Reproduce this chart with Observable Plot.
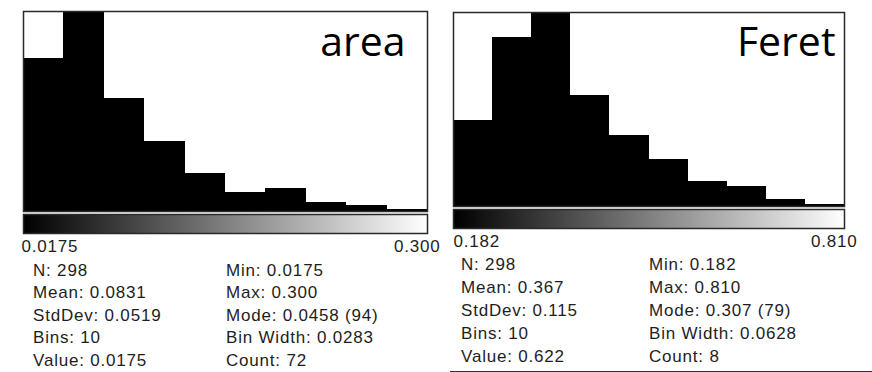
<!DOCTYPE html>
<html>
<head>
<meta charset="utf-8">
<script src="https://cdn.jsdelivr.net/npm/d3@7"></script>
<script src="https://cdn.jsdelivr.net/npm/@observablehq/plot@0.6"></script>
<style>
  html, body { margin: 0; padding: 0; background: #fff; }
  #root { position: relative; width: 872px; height: 372px; overflow: hidden; background: #fff; }
  .part { position: absolute; }
  .stat { position: absolute; font-family: "Liberation Sans", Arial, sans-serif; font-size: 17px;
          letter-spacing: 0.8px; line-height: 14px; height: 14px; color: #1e1e1e; white-space: nowrap; }
  .rule { position: absolute; background: #333; }
</style>
</head>
<body>
<div id="root"></div>
<script>
// ---------- data ----------
const binIndex = [0, 1, 2, 3, 4, 5, 6, 7, 8, 9];
const areaCounts = [72, 94, 53, 33, 18, 9, 11, 4, 3, 1];
const feretCounts = [35, 69, 79, 45, 29, 19, 10, 8, 3, 1];
const areaRange = [0.0175, 0.300];
const feretRange = [0.182, 0.810];
const areaRangeLabels = ["0.0175", "0.300"];
const feretRangeLabels = ["0.182", "0.810"];
const areaTitle = "area";
const feretTitle = "Feret";
const areaStatsLeft = ["N: 298", "Mean: 0.0831", "StdDev: 0.0519", "Bins: 10", "Value: 0.0175"];
const areaStatsRight = ["Min: 0.0175", "Max: 0.300", "Mode: 0.0458 (94)", "Bin Width: 0.0283", "Count: 72"];
const feretStatsLeft = ["N: 298", "Mean: 0.367", "StdDev: 0.115", "Bins: 10", "Value: 0.622"];
const feretStatsRight = ["Min: 0.182", "Max: 0.810", "Mode: 0.307 (79)", "Bin Width: 0.0628", "Count: 8"];

const root = document.getElementById("root");
const FRAME = "#2a2a2a";

function place(el, left, top) {
  el.classList.add("part");
  el.style.left = left + "px";
  el.style.top = top + "px";
  root.appendChild(el);
}

function statColumn(lines, x, yCenter0, step) {
  lines.forEach((s, i) => {
    const d = document.createElement("div");
    d.className = "stat";
    d.textContent = s;
    d.style.left = x + "px";
    d.style.top = (yCenter0 + i * step - 7) + "px";
    root.appendChild(d);
  });
}

function panel(cfg) {
  const [lo, hi] = cfg.range;
  const bw = (hi - lo) / cfg.counts.length;
  const bins = binIndex.map(i => ({x1: lo + i * bw, x2: lo + (i + 1) * bw, count: cfg.counts[i]}));

  const hist = Plot.plot({
    width: cfg.width, height: cfg.histHeight,
    marginLeft: cfg.mL, marginRight: cfg.mR, marginTop: cfg.mT, marginBottom: 1,
    style: {background: "transparent", overflow: "visible"},
    x: {domain: [lo, hi], axis: null},
    y: {domain: [0, d3.max(cfg.counts)], axis: null},
    marks: [
      Plot.rectY(bins, {x1: "x1", x2: "x2", y: "count", fill: "black", inset: 0,
        shapeRendering: "crispEdges"}),
      Plot.text([cfg.title], {text: d => d, frameAnchor: "top-right", textAnchor: "end",
        lineAnchor: "bottom", dx: cfg.titleDx, dy: cfg.titleDy, fontSize: 41,
        fontFamily: "'Open Sans', 'Noto Sans', sans-serif", fill: "black"}),
      Plot.frame({stroke: FRAME, strokeWidth: 1.5})
    ]
  });
  place(hist, cfg.left, 0);

  const gradH = 19;
  const grad = Plot.plot({
    width: cfg.width, height: 1 + gradH + 30,
    marginLeft: cfg.mL, marginRight: cfg.mR, marginTop: 1, marginBottom: 30,
    style: {background: "transparent", overflow: "visible"},
    x: {domain: [lo, hi], axis: null},
    y: {domain: [0, 1], axis: null},
    color: {type: "linear", domain: [lo, hi], range: ["black", "white"]},
    marks: [
      Plot.raster({x1: lo, x2: hi, y1: 0, y2: 1, width: 400, height: 1,
        fill: (x, y) => x, imageRendering: "auto"}),
      Plot.frame({stroke: FRAME, strokeWidth: 1.5}),
      Plot.text([lo], {x: d => d, text: [cfg.rangeLabels[0]], frameAnchor: "bottom",
        textAnchor: "start", lineAnchor: "middle", dx: cfg.loDx, dy: 13,
        fontSize: 17, fontFamily: "'Liberation Sans', Arial, sans-serif", fill: "#1e1e1e"}),
      Plot.text([hi], {x: d => d, text: [cfg.rangeLabels[1]], frameAnchor: "bottom",
        textAnchor: "end", lineAnchor: "middle", dx: cfg.hiDx, dy: 13,
        fontSize: 17, fontFamily: "'Liberation Sans', Arial, sans-serif", fill: "#1e1e1e"})
    ]
  });
  grad.querySelectorAll("text").forEach(t => t.style.letterSpacing = "0.8px");
  place(grad, cfg.left, cfg.histHeight + 1);

  statColumn(cfg.statsLeft, cfg.s1x, cfg.sy, cfg.step);
  statColumn(cfg.statsRight, cfg.s2x, cfg.sy, cfg.step);
}

panel({left: 0, width: 440, histHeight: 212, mL: 23, mR: 13, mT: 11,
  counts: areaCounts, range: areaRange, rangeLabels: areaRangeLabels, title: areaTitle,
  titleDx: -22, titleDy: 44, loDx: -2, hiDx: 13,
  statsLeft: areaStatsLeft, statsRight: areaStatsRight, s1x: 33, s2x: 226, sy: 271, step: 22.4});

panel({left: 440, width: 432, histHeight: 207, mL: 13, mR: 28, mT: 12,
  counts: feretCounts, range: feretRange, rangeLabels: feretRangeLabels, title: feretTitle,
  titleDx: -9, titleDy: 43, loDx: 0, hiDx: 13,
  statsLeft: feretStatsLeft, statsRight: feretStatsRight, s1x: 461, s2x: 649, sy: 265, step: 23.1});

const rule = document.createElement("div");
rule.className = "rule";
rule.style.left = "450px"; rule.style.top = "370.5px";
rule.style.width = "422px"; rule.style.height = "1.5px";
root.appendChild(rule);
</script>
</body>
</html>
